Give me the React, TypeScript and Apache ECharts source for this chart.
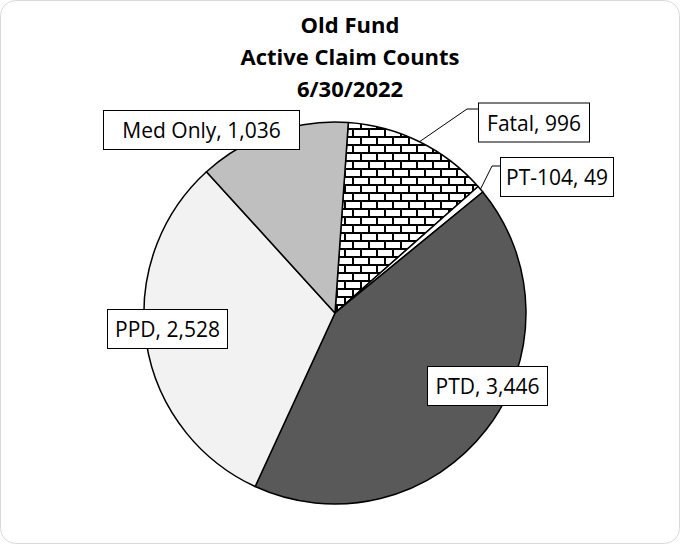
import React, { useEffect, useRef } from "react";
import * as echarts from "echarts";

const categories = ["Fatal", "PT-104", "PTD", "PPD", "Med Only"];
const values = [996, 49, 3446, 2528, 1036];
const titleLines = ["Old Fund", "Active Claim Counts", "6/30/2022"];

// label box layout (center x, center y, box width) and leader-line bends
const labelBoxes = [
  { cx: 534, cy: 122.5, w: 112, line: [[467, 109], [478, 109]] },
  { cx: 557, cy: 177, w: 114, line: [[492, 166], [500, 166]] },
  { cx: 487.5, cy: 386, w: 121, line: null },
  { cx: 167.5, cy: 329, w: 121, line: null },
  { cx: 201.5, cy: 130, w: 197, line: null },
];

const sliceColors = ["pattern", "#ffffff", "#595959", "#f2f2f2", "#bfbfbf"];

function makeBrick(): string {
  const c = document.createElement("canvas");
  c.width = 16;
  c.height = 16;
  const ctx = c.getContext("2d")!;
  ctx.fillStyle = "#ffffff";
  ctx.fillRect(0, 0, 16, 16);
  ctx.fillStyle = "#000000";
  ctx.fillRect(0, 0, 16, 2);
  ctx.fillRect(0, 8, 16, 2);
  ctx.fillRect(0, 2, 2, 6);
  ctx.fillRect(8, 10, 2, 6);
  return c.toDataURL();
}

export default function App() {
  const ref = useRef<HTMLDivElement>(null);
  useEffect(() => {
    if (!ref.current) return;
    const chart = echarts.init(ref.current, null, { renderer: "svg" });
    const brick = makeBrick();
    const cx = 335, cy = 313, r = 191, startAngle = 86;
    const total = values.reduce((a, b) => a + b, 0);
    const data = categories.map((name, i) => ({
      name,
      value: values[i],
      itemStyle: {
        color:
          sliceColors[i] === "pattern"
            ? ({ image: brick, repeat: "repeat", imageWidth: 16, imageHeight: 16 } as any)
            : sliceColors[i],
      },
      label: { width: labelBoxes[i].w - 2 },
      labelLine: { show: !!labelBoxes[i].line },
    }));
    chart.setOption({
      animation: false,
      backgroundColor: "#ffffff",
      graphic: [
        {
          type: "rect",
          shape: { x: 0.5, y: 0.5, width: 679, height: 543, r: 15 },
          style: { fill: "none", stroke: "#d9d9d9", lineWidth: 1 },
          silent: true,
        },
        {
          type: "text",
          x: 350,
          y: 8,
          style: {
            text: titleLines.join("\n"),
            font: "bold 22px 'Open Sans'",
            lineHeight: 32,
            fill: "#000",
            textAlign: "center",
            textVerticalAlign: "top",
          },
        },
      ],
      series: [
        {
          type: "pie",
          center: [cx, cy],
          radius: r,
          startAngle,
          clockwise: true,
          avoidLabelOverlap: false,
          emphasis: { disabled: true },
          itemStyle: { borderColor: "#000", borderWidth: 1.5 },
          data,
          label: {
            show: true,
            position: "outside",
            formatter: (p: any) => `${p.name}, ${Number(p.value).toLocaleString("en-US")}`,
            fontFamily: "Open Sans",
            fontSize: 21,
            color: "#000",
            lineHeight: 22,
            backgroundColor: "#fff",
            borderColor: "#000",
            borderWidth: 1,
            padding: [8, 0],
            align: "center",
          },
          labelLine: { show: true, lineStyle: { color: "#000", width: 1 }, length: 10, length2: 10 },
          labelLayout: (p: any) => {
            const b = labelBoxes[p.dataIndex];
            const out: any = { x: b.cx, y: b.cy, align: "center", verticalAlign: "middle" };
            if (b.line) {
              let start = p.labelLinePoints && p.labelLinePoints[0];
              if (!start) {
                let acc = 0;
                for (let k = 0; k < p.dataIndex; k++) acc += values[k];
                const mid = ((90 - startAngle) + ((acc + values[p.dataIndex] / 2) / total) * 360) * Math.PI / 180;
                start = [cx + r * Math.sin(mid), cy - r * Math.cos(mid)];
              }
              out.labelLinePoints = [start, b.line[0], b.line[1]];
            }
            return out;
          },
        },
      ],
    });
    return () => chart.dispose();
  }, []);
  return (
    <div
      ref={ref}
      style={{ position: "fixed", left: 0, top: 0, width: 681, height: 548 }}
    />
  );
}
